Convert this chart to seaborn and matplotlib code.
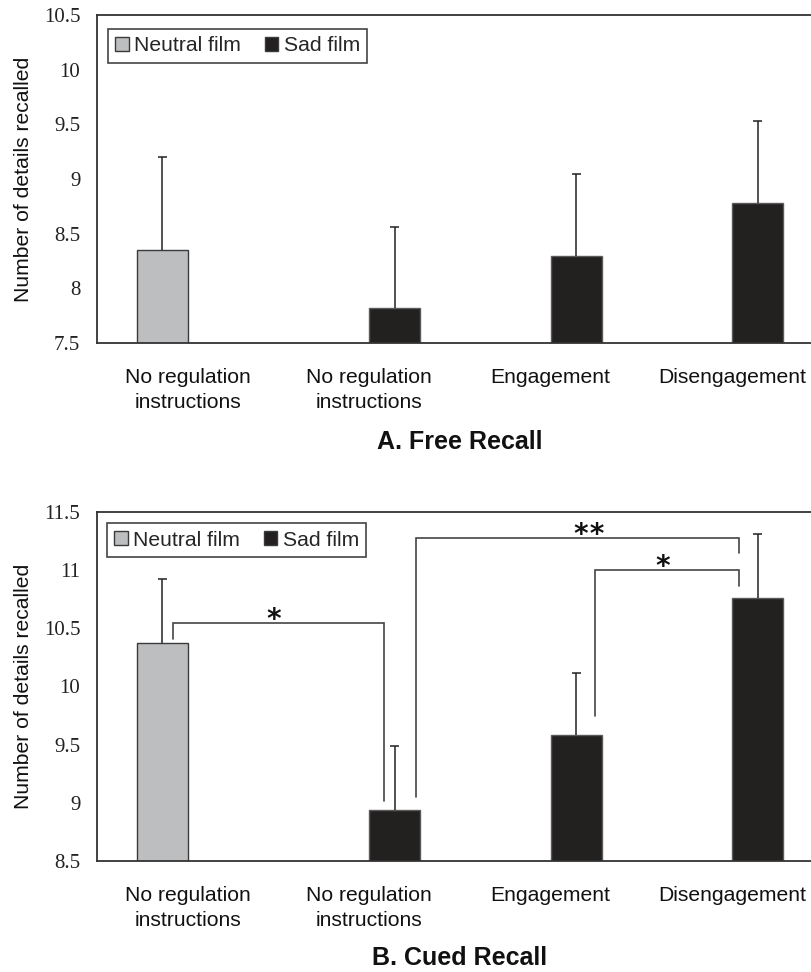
import matplotlib
matplotlib.use("Agg")
import matplotlib.pyplot as plt
from matplotlib.patches import Patch
import seaborn as sns
import pandas as pd

# ---------------- data ----------------
cat_keys = ["noreg_neutral", "noreg_sad", "engagement", "disengagement"]
cat_labels = ["No regulation\ninstructions", "No regulation\ninstructions",
              "Engagement", "Disengagement"]
films = ["Neutral film", "Sad film", "Sad film", "Sad film"]
film_levels = ["Neutral film", "Sad film"]

free_means = [8.35, 7.82, 8.30, 8.78]
free_err = [0.85, 0.74, 0.75, 0.75]
cued_means = [10.37, 8.94, 9.58, 10.76]
cued_err = [0.55, 0.55, 0.54, 0.55]

free_ticks = [7.5, 8, 8.5, 9, 9.5, 10, 10.5]
cued_ticks = [8.5, 9, 9.5, 10, 10.5, 11, 11.5]

# significance brackets (cued recall)
br_x0 = [-0.083, 1.256, 2.242]
br_x1 = [1.08, 3.04, 3.04]
br_y0 = [10.41, 9.05, 9.746]
br_y1 = [9.015, 11.146, 10.863]
br_top = [10.545, 11.275, 11.0]
br_lab = ["*", "**", "*"]
br_lx = [0.474, 2.21, 2.617]

# ---------------- style ----------------
sns.set_theme(style="white")
plt.rcParams["font.family"] = ["Liberation Sans", "DejaVu Sans"]

colors = {"Neutral film": "#BCBEC0", "Sad film": "#231F20"}
edges = {"Neutral film": "#3A3A3A", "Sad film": "#5A5A5A"}
spine_c = "#333333"

fig = plt.figure(figsize=(8.12, 9.72), dpi=100)
ax1 = fig.add_axes([0.1195, 0.6471, 0.8805, 0.3375])
ax2 = fig.add_axes([0.1195, 0.1142, 0.8805, 0.3591])


def draw(ax, means, errs, ticks, title, title_y):
    df = pd.DataFrame({"key": cat_keys, "film": films, "mean": means})
    sns.barplot(data=df, x="key", y="mean", hue="film", order=cat_keys,
                hue_order=film_levels, palette=colors, width=0.562,
                dodge=True, errorbar=None, ax=ax, legend=False,
                linewidth=1.0)
    for cont, lev in zip(ax.containers, film_levels):
        for bar in cont:
            bar.set_edgecolor(edges[lev])
    cap = 0.024
    for bar in list(ax.patches):
        h = bar.get_height()
        if h != h:
            continue
        xc = bar.get_x() + bar.get_width() / 2
        i = int(round(xc))
        ax.vlines(xc, h, h + errs[i], color="#222222", lw=1.1, zorder=3)
        ax.hlines(h + errs[i], xc - cap, xc + cap, color="#222222", lw=1.1,
                  zorder=3)
    ax.set_xlim(-0.5, 3.44)
    ax.set_ylim(ticks[0], ticks[-1])
    ax.set_yticks(ticks)
    ax.set_yticklabels([f"{t:g}" for t in ticks], family="Liberation Serif",
                       fontsize=15, color="#222222")
    ax.set_xticks(range(len(cat_keys)))
    ax.set_xticklabels(cat_labels, fontsize=15.2, color="#111111",
                       linespacing=1.4)
    ax.tick_params(axis="both", length=0)
    ax.tick_params(axis="y", pad=12)
    ax.tick_params(axis="x", pad=18)
    ax.set_xlabel("")
    ax.set_ylabel("Number of details recalled", fontsize=15.2,
                  color="#111111")
    ax.yaxis.set_label_coords(-0.09, 0.5)
    for s in ["top", "left", "bottom"]:
        ax.spines[s].set_visible(True)
        ax.spines[s].set_color(spine_c)
        ax.spines[s].set_linewidth(1.3)
    ax.spines["right"].set_visible(False)
    handles = [Patch(facecolor=colors[l], edgecolor=edges["Neutral film"],
                     linewidth=1.0, label=l) for l in film_levels]
    ax.legend(handles=handles, loc="upper left", ncol=2, fontsize=15.2,
              frameon=True, fancybox=False, framealpha=1,
              edgecolor="#444444", handlelength=0.65, handleheight=0.65,
              handletextpad=0.25, columnspacing=1.1, borderpad=0.35,
              borderaxespad=0)
    fig.text(0.566, title_y, title, ha="center", va="center",
             fontsize=18, fontweight="bold", color="#111111")


draw(ax1, free_means, free_err, free_ticks, "A. Free Recall", 0.5453)
draw(ax2, cued_means, cued_err, cued_ticks, "B. Cued Recall", 0.0144)

leg1 = ax1.get_legend()
leg1.set_bbox_to_anchor((0.0154, 0.957), transform=ax1.transAxes)
leg2 = ax2.get_legend()
leg2.set_bbox_to_anchor((0.014, 0.968), transform=ax2.transAxes)
leg1.get_frame().set_linewidth(1.2)
leg2.get_frame().set_linewidth(1.2)

for x0, x1, y0, y1, top, lab, lx in zip(br_x0, br_x1, br_y0, br_y1,
                                        br_top, br_lab, br_lx):
    ax2.plot([x0, x0, x1, x1], [y0, top, top, y1], color="#444444",
             lw=1.2, solid_joinstyle="miter")
    ax2.text(lx, top - 0.045, lab, ha="center", va="baseline", fontsize=20,
             fontweight="bold", color="#111111", family="DejaVu Sans Mono")

fig.savefig("out.png", dpi=100)
